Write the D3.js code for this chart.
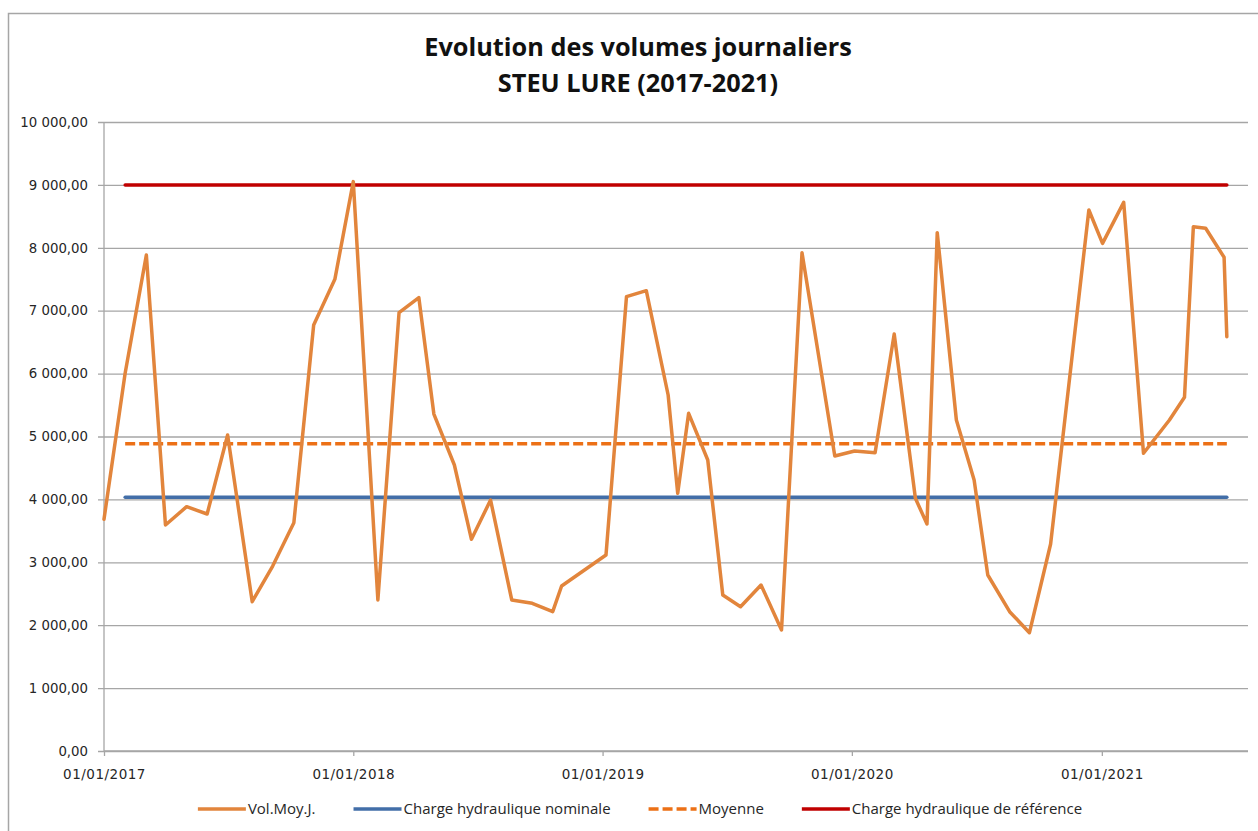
<!DOCTYPE html>
<html><head><meta charset="utf-8">
<script src="https://cdn.jsdelivr.net/npm/d3@7"></script>
<style>
html,body{margin:0;padding:0;background:#fff;}
svg{display:block;}
</style></head>
<body>
<svg id="chart" width="1258" height="831"></svg>
<script>
// ---- data ----
const titleLines = ["Evolution des volumes journaliers", "STEU LURE (2017-2021)"];
const dates = ["2017-01-01","2017-02-01","2017-03-04","2017-04-01","2017-05-02","2017-06-01","2017-07-01","2017-08-06","2017-09-05","2017-10-06","2017-11-04","2017-12-05",
"2018-01-01","2018-02-06","2018-03-09","2018-04-07","2018-04-29","2018-05-29","2018-06-23","2018-07-21","2018-08-21","2018-09-20","2018-10-20","2018-11-02",
"2019-01-06","2019-02-05","2019-03-06","2019-04-07","2019-04-21","2019-05-07","2019-06-04","2019-06-26","2019-07-22","2019-08-21","2019-09-20","2019-10-20","2019-12-07",
"2020-01-05","2020-02-04","2020-03-03","2020-04-03","2020-04-20","2020-05-05","2020-06-02","2020-06-28","2020-07-18","2020-08-19","2020-09-17","2020-10-18","2020-12-13",
"2021-01-02","2021-02-02","2021-03-03","2021-04-10","2021-05-02","2021-05-15","2021-06-02","2021-06-29","2021-07-03"];
const volMoyJ = [3684,6010,7886,3593,3884,3768,5024,2374,2941,3630,6773,7499,
9052,2401,6968,7207,5357,4547,3365,3990,2401,2348,2215,2623,
3116,7223,7318,5660,4097,5369,4626,2480,2294,2639,1924,7922,4690,
4769,4743,6630,4017,3609,8241,5262,4308,2798,2215,1881,3291,8601,
8071,8723,4733,5262,5623,8336,8310,7849,6587];
const chargeNominale = 4035;
const moyenne = 4885;
const chargeReference = 9000;
const refLinesStart = "2017-02-01";
const xDomain = ["2017-01-01","2021-08-03"];
const xTickDates = ["2017-01-01","2018-01-01","2019-01-01","2020-01-01","2021-01-01"];
const yTicks = [0,1000,2000,3000,4000,5000,6000,7000,8000,9000,10000];
const seriesNames = ["Vol.Moy.J.","Charge hydraulique nominale","Moyenne","Charge hydraulique de référence"];

// ---- setup ----
const parse = d3.timeParse("%Y-%m-%d");
const svg = d3.select("#chart");
const W = 1258, H = 831;
const plot = {left:104, right:1248, top:122, bottom:751};

const x = d3.scaleTime().domain(xDomain.map(parse)).range([plot.left, plot.right]);
const y = d3.scaleLinear().domain([0,10000]).range([plot.bottom, plot.top]);

const fr = d3.formatLocale({decimal:",", thousands:" ", grouping:[3], currency:["","€"]});
const yFmt = fr.format(",.2f");
const xFmt = d3.timeFormat("%d/%m/%Y");

const colors = {vol:"#E2853C", nom:"#426EA8", moy:"#EC7016", ref:"#C00000"};
const labelFont = "'DejaVu Sans', sans-serif";

// chart area border
svg.append("path").attr("d", `M8.5,${H} V13.5 H${W}`).attr("fill","none")
  .attr("stroke","#a6a6a6").attr("stroke-width",1.5);

// title
const title = svg.append("text").attr("text-anchor","middle")
  .attr("font-family","'Open Sans', sans-serif").attr("font-weight","bold")
  .attr("font-size",25.3).attr("fill","#111");
titleLines.forEach((t,i)=>{
  title.append("tspan").attr("x",638).attr("y",56 + i*36).text(t);
});

// gridlines + y axis
const yAxis = d3.axisLeft(y).tickValues(yTicks).tickFormat(yFmt)
  .tickSize(-(plot.right-plot.left)).tickPadding(10);
const gy = svg.append("g").attr("transform",`translate(${plot.left},0)`).call(yAxis);
gy.select(".domain").remove();
gy.selectAll(".tick line").attr("stroke","#a6a6a6").attr("stroke-width",1.3).attr("x2", plot.right-plot.left).attr("x1",-6);
gy.selectAll(".tick text").attr("font-family",labelFont).attr("font-size",13.3).attr("fill","#262626").attr("x",-16);

// y axis line
svg.append("line").attr("x1",plot.left).attr("x2",plot.left).attr("y1",plot.top).attr("y2",plot.bottom)
  .attr("stroke","#a6a6a6").attr("stroke-width",1.3);

// x axis
const xAxis = d3.axisBottom(x).tickValues(xTickDates.map(parse)).tickFormat(xFmt).tickSize(5).tickPadding(13);
const gx = svg.append("g").attr("transform",`translate(0,${plot.bottom})`).call(xAxis);
gx.select(".domain").attr("stroke","#a6a6a6").attr("stroke-width",1.3)
  .attr("d",`M${plot.left},0H${plot.right}`);
gx.selectAll(".tick line").attr("stroke","#a6a6a6").attr("stroke-width",1.3);
gx.selectAll(".tick text").attr("font-family",labelFont).attr("font-size",13.5).attr("letter-spacing","0.5px").attr("fill","#262626");

// horizontal reference series
const start = parse(refLinesStart), end = parse(dates[dates.length-1]);
const hline = (v) => d3.line().x(d=>x(d)).y(()=>y(v))([start,end]);
svg.append("path").attr("d",hline(chargeReference)).attr("fill","none")
  .attr("stroke",colors.ref).attr("stroke-width",3.5).attr("stroke-linecap","round");
svg.append("path").attr("d",hline(chargeNominale)).attr("fill","none")
  .attr("stroke",colors.nom).attr("stroke-width",3.5).attr("stroke-linecap","round");
svg.append("path").attr("d",hline(moyenne)).attr("fill","none")
  .attr("stroke",colors.moy).attr("stroke-width",3.5).attr("stroke-dasharray","10,4");

// main series
const pts = dates.map((d,i)=>({date:parse(d), v:volMoyJ[i]}));
svg.append("path").datum(pts).attr("fill","none")
  .attr("stroke",colors.vol).attr("stroke-width",3.5).attr("stroke-linejoin","round").attr("stroke-linecap","round")
  .attr("d", d3.line().x(d=>x(d.date)).y(d=>y(d.v)));

// legend
const legItems = [
  {name:seriesNames[0], color:colors.vol, dash:null},
  {name:seriesNames[1], color:colors.nom, dash:null},
  {name:seriesNames[2], color:colors.moy, dash:"10,4"},
  {name:seriesNames[3], color:colors.ref, dash:null}
];
const leg = svg.append("g");
const ly = 809, segW = 48, gapAfterText = 38;
let cx = 0;
legItems.forEach(it=>{
  const g = leg.append("g").attr("transform",`translate(${cx},0)`);
  g.append("line").attr("x1",0).attr("x2",segW).attr("y1",ly).attr("y2",ly)
    .attr("stroke",it.color).attr("stroke-width",3.5).attr("stroke-dasharray",it.dash);
  const t = g.append("text").attr("x",segW+2).attr("y",ly).attr("dy","0.35em")
    .attr("font-family","'Open Sans', sans-serif").attr("font-size",15).attr("fill","#262626").text(it.name);
  cx += segW + 2 + t.node().getComputedTextLength() + gapAfterText;
});
const legW = cx - gapAfterText;
leg.attr("transform",`translate(${640 - legW/2},0)`);
</script>
</body></html>
